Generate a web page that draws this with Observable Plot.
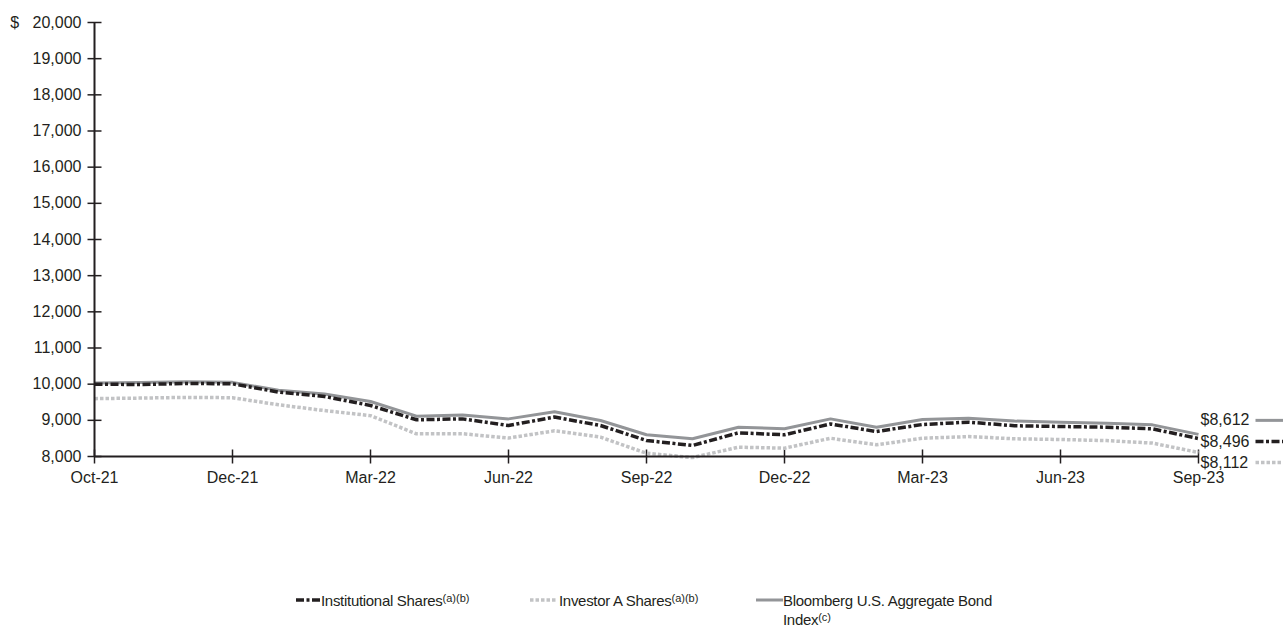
<!DOCTYPE html>
<html>
<head>
<meta charset="utf-8">
<script src="https://cdn.jsdelivr.net/npm/d3@7"></script>
<script src="https://cdn.jsdelivr.net/npm/@observablehq/plot@0.6"></script>
<style>
  html, body { margin: 0; padding: 0; background: #fff; }
  body { position: relative; width: 1283px; height: 628px; overflow: hidden; font-family: "Liberation Sans", Arial, sans-serif; color: #231f20; }
  #chart { position: absolute; left: 0; top: 0; }
  .leg { position: absolute; top: 592px; font-size: 15px; line-height: 17px; letter-spacing: -0.3px; }
  .leg svg { position: absolute; left: 0; top: 2px; }
  .leg .txt { position: absolute; top: 0; white-space: nowrap; }
  .leg .txt2 { position: absolute; top: 19px; white-space: nowrap; }
  .leg sup { font-size: 11px; line-height: 0; vertical-align: 0; position: relative; top: -4px; letter-spacing: 0; }
</style>
</head>
<body>
<div id="chart"></div>
<div class="leg" style="left:295px"><svg width="26" height="12"><line x1="1" y1="6" x2="25" y2="6" stroke="#231f20" stroke-width="3.5" stroke-dasharray="8,2.5,3,2.5"/></svg><span class="txt" style="left:26px">Institutional Shares<sup>(a)(b)</sup></span></div>
<div class="leg" style="left:529px"><svg width="28" height="12"><line x1="1" y1="6" x2="27" y2="6" stroke="#c2c3c5" stroke-width="3.5" stroke-dasharray="3.5,2"/></svg><span class="txt" style="left:30px">Investor A Shares<sup>(a)(b)</sup></span></div>
<div class="leg" style="left:756px"><svg width="28" height="12"><line x1="0" y1="6" x2="27" y2="6" stroke="#939598" stroke-width="3"/></svg><span class="txt" style="left:27px">Bloomberg U.S. Aggregate Bond</span><span class="txt2" style="left:27px">Index<sup>(c)</sup></span></div>
<script>
// ---- data ----
const periods = ["Inception","Oct-21","Nov-21","Dec-21","Jan-22","Feb-22","Mar-22","Apr-22","May-22","Jun-22","Jul-22","Aug-22","Sep-22","Oct-22","Nov-22","Dec-22","Jan-23","Feb-23","Mar-23","Apr-23","May-23","Jun-23","Jul-23","Aug-23","Sep-23"];
const tickLabels = ["Oct-21","Dec-21","Mar-22","Jun-22","Sep-22","Dec-22","Mar-23","Jun-23","Sep-23"];
const yTicks = [8000,9000,10000,11000,12000,13000,14000,15000,16000,17000,18000,19000,20000];
const institutional = [10000, 9990, 10020, 10010, 9780, 9660, 9410, 9015, 9040, 8857, 9090, 8857, 8442, 8305, 8655, 8600, 8900, 8690, 8885, 8950, 8850, 8830, 8810, 8765, 8496];
const investorA = [9600, 9615, 9635, 9625, 9430, 9270, 9130, 8627, 8630, 8510, 8710, 8535, 8090, 7970, 8258, 8230, 8505, 8323, 8505, 8550, 8490, 8470, 8440, 8370, 8112];
const bloomberg = [10030, 10045, 10065, 10050, 9830, 9730, 9520, 9115, 9150, 9040, 9235, 8995, 8600, 8490, 8810, 8765, 9040, 8810, 9023, 9060, 8980, 8950, 8920, 8875, 8612];
const seriesNames = ["Institutional Shares", "Investor A Shares", "Bloomberg U.S. Aggregate Bond Index"];
const endLabels = ["$8,612", "$8,496", "$8,112"];

// ---- build ----
const rows = s => periods.map((p, i) => ({i, period: p, value: s[i]}));
const instRows = rows(institutional), invRows = rows(investorA), bbRows = rows(bloomberg);
const last = periods.length - 1;
const ends = [
  {i: last, value: bloomberg[last], label: endLabels[0], off: -14, stroke: "#939598", dash: "none", w: 3},
  {i: last, value: institutional[last], label: endLabels[1], off: 3, stroke: "#231f20", dash: "8,2.5,3,2.5", w: 3.5},
  {i: last, value: investorA[last], label: endLabels[2], off: 10, stroke: "#c2c3c5", dash: "3.5,2", w: 3.5}
];
const tickIdx = tickLabels.map((l, k) => k === 0 ? 0 : periods.indexOf(l));
const fmtY = d => d === 20000 ? "$\u00a0\u00a0\u00a0" + d3.format(",")(d) : d3.format(",")(d);
const fmtX = d => tickLabels[tickIdx.indexOf(d)];
const seg = {draw(ctx, l) { ctx.moveTo(0, 0); ctx.lineTo(0, -l); }};

const ink = "#231f20";
const plot = Plot.plot({
  width: 1283,
  height: 500,
  marginLeft: 94,
  marginRight: 85,
  marginTop: 22,
  marginBottom: 44,
  style: {fontFamily: "'Liberation Sans', Arial, sans-serif", fontSize: "16px", color: ink, background: "transparent", overflow: "visible"},
  x: {domain: [0, last]},
  y: {domain: [8000, 20000]},
  marks: [
    Plot.axisY(yTicks, {tickSize: 0, tickPadding: 13, tickFormat: fmtY, label: null, fontSize: 16, fill: ink}),
    Plot.axisX(tickIdx, {tickSize: 0, tickPadding: 15, tickFormat: fmtX, label: null, fontSize: 16, fill: ink}),
    Plot.vector(yTicks, {x: 0, y: d => d, length: 14, rotate: 90, anchor: "middle", shape: seg, stroke: ink, strokeWidth: 1.5, strokeLinecap: "butt"}),
    Plot.vector(tickIdx, {x: d => d, y: 8000, length: 14, rotate: 0, anchor: "middle", shape: seg, stroke: ink, strokeWidth: 1.5, strokeLinecap: "butt"}),
    Plot.line(invRows, {x: "i", y: "value", stroke: "#c2c3c5", strokeWidth: 3.5, strokeDasharray: "3.5,2", strokeLinecap: "butt", strokeLinejoin: "miter", curve: "linear"}),
    Plot.line(bbRows, {x: "i", y: "value", stroke: "#939598", strokeWidth: 3, strokeLinecap: "butt", curve: "linear"}),
    Plot.line(instRows, {x: "i", y: "value", stroke: ink, strokeWidth: 3.5, strokeDasharray: "8,2.5,3,2.5", strokeLinecap: "butt", strokeLinejoin: "miter", curve: "linear"}),
    Plot.ruleX([0], {stroke: ink, strokeWidth: 2}),
    Plot.ruleY([8000], {stroke: ink, strokeWidth: 2}),
    ...ends.map(e => Plot.text([e], {x: "i", y: "value", text: "label", dy: e.off, dx: 2, textAnchor: "start", fontSize: 16, fill: ink})),
    ...ends.map(e => Plot.vector([e], {x: "i", y: "value", dy: e.off, dx: 57, rotate: 90, length: 30, anchor: "start", shape: seg, stroke: e.stroke, strokeWidth: e.w, strokeDasharray: e.dash, strokeLinecap: "butt"}))
  ]
});
document.getElementById("chart").appendChild(plot);
</script>
</body>
</html>
